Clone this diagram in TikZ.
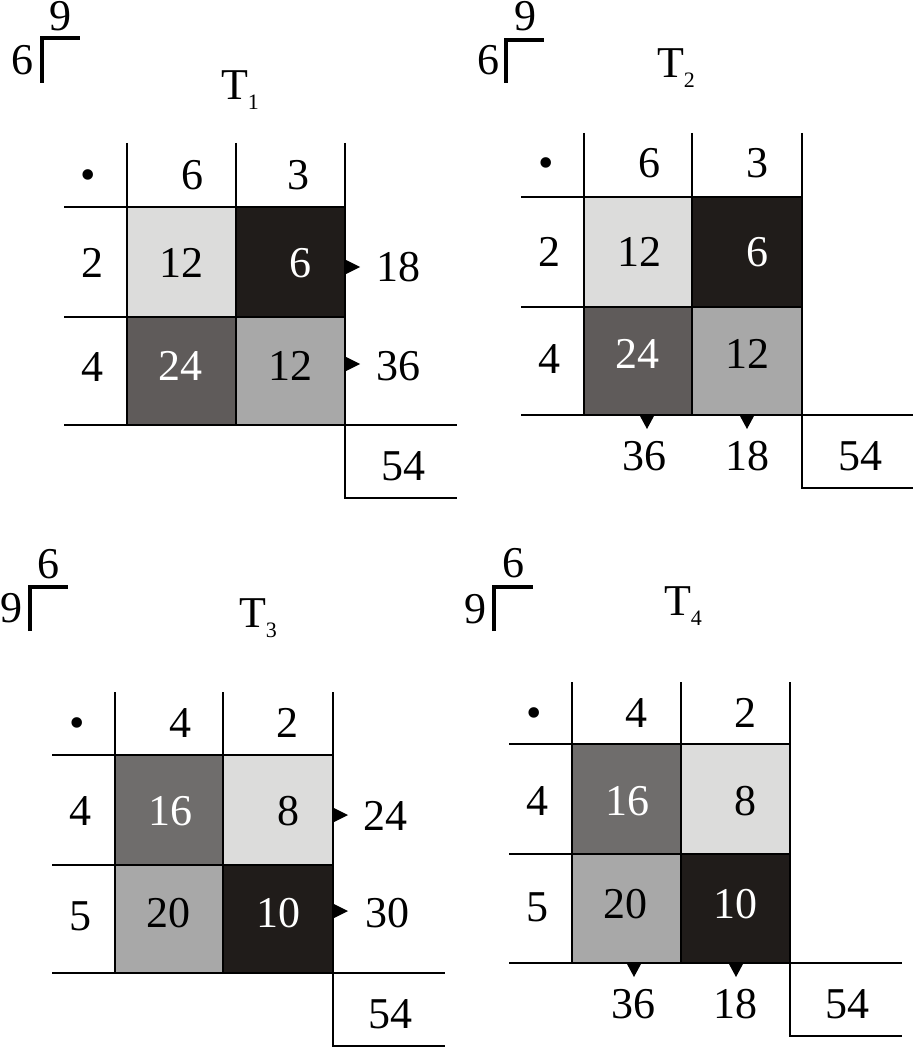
\documentclass[tikz,border=0pt]{standalone}
\usepackage{fontspec}
\setmainfont{Liberation Serif}
\definecolor{cLight}{HTML}{DCDCDB}
\definecolor{cBlack}{HTML}{201C1A}
\definecolor{cDarkA}{HTML}{5F5B5A}
\definecolor{cDarkB}{HTML}{6F6D6C}
\definecolor{cMid}{HTML}{A8A8A8}
\newcommand\tlab[1]{T\raisebox{-10pt}{\fontsize{22}{22}\selectfont #1}}
\begin{document}
\begin{tikzpicture}[x=1pt,y=-1pt,
  txt/.style={font=\fontsize{44}{44}\selectfont, inner sep=0pt, anchor=base, text height=30pt, text depth=0pt},
  wtxt/.style={txt, text=white},
  thin line/.style={line width=1.5pt, black},
  cell/.style={draw=black, line width=2.5pt},
  brk/.style={line width=3.5pt, black},
  tip/.style={fill=black}]
\useasboundingbox (0,0) rectangle (914,1048);
% ================= T1 =================
\node[txt] (a9) at (60,31) {9};
\node[txt] (a6) at (23,75) {6};
\draw[brk] (42,83) -- (42,38) -- (80,38);
\node[txt] (aT) at (240,100) {\tlab{1}};
\fill[cLight] (127,207) rectangle (236,317);
\fill[cBlack] (236,207) rectangle (345,317);
\fill[cDarkA] (127,317) rectangle (236,425);
\fill[cMid] (236,317) rectangle (345,425);
\draw[cell] (127,207) rectangle (345,425) (236,207) -- (236,425) (127,317) -- (345,317);
\draw[thin line] (127,143) -- (127,425) (236,143) -- (236,207) (345,143) -- (345,498) -- (457,498);
\draw[thin line] (64,207) -- (127,207) (64,317) -- (127,317) (64,425) -- (457,425);
\node[txt] (ab) at (88,190) {•};
\node[txt] (ac1) at (192,190) {6};
\node[txt] (ac2) at (298,190) {3};
\node[txt] (ar1) at (92,277) {2};
\node[txt] (ar2) at (92,381) {4};
\node[txt] (a11) at (181,277) {12};
\node[wtxt] (a12) at (300,277) {6};
\node[wtxt] (a21) at (180,380) {24};
\node[txt] (a22) at (290,380) {12};
\fill[tip] (346,260) -- (360,267) -- (346,274) -- cycle;
\fill[tip] (346,357) -- (360,364) -- (346,371) -- cycle;
\node[txt] (as1) at (398,281) {18};
\node[txt] (as2) at (398,380) {36};
\node[txt] (at) at (403,480) {54};
% ================= T2 =================
\node[txt] (b9) at (525,31) {9};
\node[txt] (b6) at (488,75) {6};
\draw[brk] (506,83) -- (506,40) -- (544,40);
\node[txt] (bT) at (676,78) {\tlab{2}};
\fill[cLight] (584,197) rectangle (692,307);
\fill[cBlack] (692,197) rectangle (802,307);
\fill[cDarkA] (584,307) rectangle (692,415);
\fill[cMid] (692,307) rectangle (802,415);
\draw[cell] (584,197) rectangle (802,415) (692,197) -- (692,415) (584,307) -- (802,307);
\draw[thin line] (584,133) -- (584,415) (692,133) -- (692,197) (802,133) -- (802,488) -- (913,488);
\draw[thin line] (521,197) -- (584,197) (521,307) -- (584,307) (521,415) -- (913,415);
\node[txt] (bb) at (546,178) {•};
\node[txt] (bc1) at (649,178) {6};
\node[txt] (bc2) at (757,178) {3};
\node[txt] (br1) at (549,267) {2};
\node[txt] (br2) at (549,373) {4};
\node[txt] (b11) at (639,267) {12};
\node[wtxt] (b12) at (757,267) {6};
\node[wtxt] (b21) at (637,368) {24};
\node[txt] (b22) at (747,368) {12};
\fill[tip] (640,416) -- (647,429) -- (654,416) -- cycle;
\fill[tip] (740,416) -- (747,429) -- (754,416) -- cycle;
\node[txt] (bs1) at (644,470) {36};
\node[txt] (bs2) at (747,470) {18};
\node[txt] (bt) at (860,470) {54};
% ================= T3 =================
\node[txt] (c6) at (48,578) {6};
\node[txt] (c9) at (11,622) {9};
\draw[brk] (30,631) -- (30,587) -- (68,587);
\node[txt] (cT) at (258,627) {\tlab{3}};
\fill[cDarkB] (115,755) rectangle (223,865);
\fill[cLight] (223,755) rectangle (333,865);
\fill[cMid] (115,865) rectangle (223,973);
\fill[cBlack] (223,865) rectangle (333,973);
\draw[cell] (115,755) rectangle (333,973) (223,755) -- (223,973) (115,865) -- (333,865);
\draw[thin line] (115,692) -- (115,973) (223,692) -- (223,755) (333,692) -- (333,1046) -- (445,1046);
\draw[thin line] (52,755) -- (115,755) (52,865) -- (115,865) (52,973) -- (445,973);
\node[txt] (cb) at (77,737) {•};
\node[txt] (cc1) at (180,737) {4};
\node[txt] (cc2) at (287,737) {2};
\node[txt] (cr1) at (80,825) {4};
\node[txt] (cr2) at (80,930) {5};
\node[wtxt] (c11) at (170,825) {16};
\node[txt] (c12) at (288,825) {8};
\node[txt] (c21) at (168,927) {20};
\node[wtxt] (c22) at (278,927) {10};
\fill[tip] (334,808) -- (348,815) -- (334,822) -- cycle;
\fill[tip] (334,904) -- (348,911) -- (334,918) -- cycle;
\node[txt] (cs1) at (385,830) {24};
\node[txt] (cs2) at (387,927) {30};
\node[txt] (ct) at (390,1028) {54};
% ================= T4 =================
\node[txt] (d6) at (513,577) {6};
\node[txt] (d9) at (475,623) {9};
\draw[brk] (494,631) -- (494,587) -- (533,587);
\node[txt] (dT) at (683,615) {\tlab{4}};
\fill[cDarkB] (572,744) rectangle (681,854);
\fill[cLight] (681,744) rectangle (790,854);
\fill[cMid] (572,854) rectangle (681,963);
\fill[cBlack] (681,854) rectangle (790,963);
\draw[cell] (572,744) rectangle (790,963) (681,744) -- (681,963) (572,854) -- (790,854);
\draw[thin line] (572,682) -- (572,963) (681,682) -- (681,744) (790,682) -- (790,1036) -- (902,1036);
\draw[thin line] (509,744) -- (572,744) (509,854) -- (572,854) (509,963) -- (902,963);
\node[txt] (db) at (534,727) {•};
\node[txt] (dc1) at (636,727) {4};
\node[txt] (dc2) at (745,727) {2};
\node[txt] (dr1) at (537,815) {4};
\node[txt] (dr2) at (537,921) {5};
\node[wtxt] (d11) at (627,815) {16};
\node[txt] (d12) at (745,815) {8};
\node[txt] (d21) at (625,918) {20};
\node[wtxt] (d22) at (735,918) {10};
\fill[tip] (627,964) -- (634,977) -- (641,964) -- cycle;
\fill[tip] (729,964) -- (736,977) -- (743,964) -- cycle;
\node[txt] (ds1) at (633,1018) {36};
\node[txt] (ds2) at (735,1018) {18};
\node[txt] (dt) at (847,1018) {54};
\end{tikzpicture}
\end{document}
